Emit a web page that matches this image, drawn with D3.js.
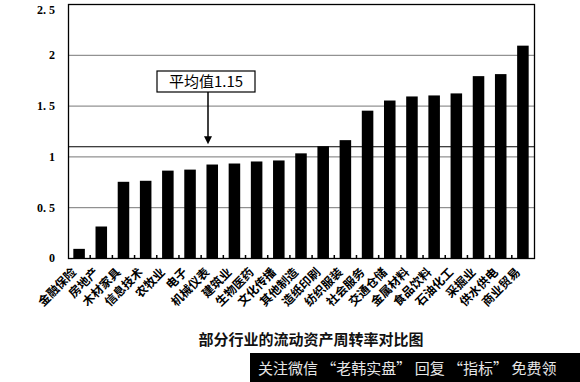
<!DOCTYPE html>
<html>
<head>
<meta charset="utf-8">
<script src="https://cdn.jsdelivr.net/npm/d3@7"></script>
<style>
  body { margin: 0; background: #fff; }
  svg { display: block; }
</style>
</head>
<body>
<div id="chart"></div>
<script>
// industries and their current asset turnover
var industries = ["金融保险", "房地产", "木材家具", "信息技术", "农牧业", "电子", "机械仪表", "建筑业",
  "生物医药", "文化传播", "其他制造", "造纸印刷", "纺织服装", "社会服务", "交通仓储", "金属材料",
  "食品饮料", "石油化工", "采掘业", "供水供电", "商业贸易"];
var turnover = [0.09, 0.31, 0.75, 0.76, 0.86, 0.87, 0.92, 0.93,
  0.95, 0.96, 1.03, 1.10, 1.16, 1.45, 1.55, 1.59,
  1.60, 1.62, 1.79, 1.81, 2.09];
var yTicks = [0, 0.5, 1, 1.5, 2, 2.5];
var avgLine = 1.1;
var avgLabel = "平均值1.15";
var title = "部分行业的流动资产周转率对比图";
var footer = "关注微信 “老韩实盘” 回复 “指标” 免费领";

var width = 580, height = 382;
var margin = {top: 4, right: 46, bottom: 124, left: 68};
var chartWidth = width - margin.left - margin.right;
var chartHeight = height - margin.top - margin.bottom;

var svg = d3.select("#chart").append("svg")
  .attr("width", width)
  .attr("height", height);

var chartGroup = svg.append("g")
  .attr("transform", `translate(${margin.left}, ${margin.top})`);

var yScale = d3.scaleLinear()
  .domain([0, 2.5])
  .range([chartHeight, 0]);

var xScale = d3.scaleBand()
  .domain(industries)
  .range([0, chartWidth])
  .paddingInner(0.48)
  .paddingOuter(0.24);

// gridlines
chartGroup.selectAll(".grid")
  .data(yTicks.filter(d => d > 0 && d < 2.5))
  .enter()
  .append("line")
  .attr("x1", 0)
  .attr("x2", chartWidth)
  .attr("y1", d => yScale(d) + 0.5)
  .attr("y2", d => yScale(d) + 0.5)
  .attr("stroke", "#777")
  .attr("stroke-width", 1);

// average line
chartGroup.append("line")
  .attr("x1", 0)
  .attr("x2", chartWidth)
  .attr("y1", yScale(avgLine) + 0.5)
  .attr("y2", yScale(avgLine) + 0.5)
  .attr("stroke", "#000")
  .attr("stroke-width", 1.2);

// bars
chartGroup.selectAll("rect.bar")
  .data(turnover)
  .enter()
  .append("rect")
  .attr("class", "bar")
  .attr("x", (d, i) => xScale(industries[i]))
  .attr("y", d => yScale(d))
  .attr("width", xScale.bandwidth())
  .attr("height", d => chartHeight - yScale(d))
  .attr("fill", "#000");

// frame
chartGroup.append("rect")
  .attr("x", 0.5)
  .attr("y", 0.5)
  .attr("width", chartWidth)
  .attr("height", chartHeight)
  .attr("fill", "none")
  .attr("stroke", "#000")
  .attr("stroke-width", 1.3);

// y axis
var yAxis = d3.axisLeft(yScale)
  .tickValues(yTicks)
  .tickSize(0)
  .tickPadding(13)
  .tickFormat(d => d3.format("")(d).replace(".", ". "));

chartGroup.append("g")
  .call(yAxis)
  .call(g => g.select(".domain").remove())
  .selectAll("text")
  .attr("font-family", "'Liberation Serif', serif")
  .attr("font-weight", "bold")
  .attr("font-size", 12)
  .attr("fill", "#000")
  .attr("dy", d => d === 2.5 ? "0.75em" : "0.32em");

// x axis ticks between bars, pointing up
var boundaries = d3.range(1, industries.length).map(i => i * chartWidth / industries.length);
chartGroup.selectAll(".xtick")
  .data(boundaries)
  .enter()
  .append("line")
  .attr("x1", d => d)
  .attr("x2", d => d)
  .attr("y1", chartHeight)
  .attr("y2", chartHeight - 3)
  .attr("stroke", "#000")
  .attr("stroke-width", 1.5);

// category labels
chartGroup.selectAll(".xlabel")
  .data(industries)
  .enter()
  .append("text")
  .attr("transform", d => `translate(${xScale(d) + xScale.bandwidth() / 2 - 2}, ${chartHeight + 15}) rotate(-45)`)
  .attr("text-anchor", "end")
  .attr("font-family", "'Noto Sans CJK SC', sans-serif")
  .attr("font-weight", "bold")
  .attr("font-size", 12)
  .attr("fill", "#000")
  .text(d => d);

// average annotation
var boxX = 157 - margin.left, boxY = 71 - margin.top, boxW = 98, boxH = 21;
chartGroup.append("rect")
  .attr("x", boxX)
  .attr("y", boxY)
  .attr("width", boxW)
  .attr("height", boxH)
  .attr("fill", "#fff")
  .attr("stroke", "#000")
  .attr("stroke-width", 1.2);

chartGroup.append("text")
  .attr("x", boxX + boxW / 2)
  .attr("y", boxY + 16)
  .attr("text-anchor", "middle")
  .attr("font-family", "'Noto Sans CJK SC', sans-serif")
  .attr("font-size", 15)
  .attr("fill", "#000")
  .text(avgLabel);

var arrowX = 208 - margin.left;
chartGroup.append("line")
  .attr("x1", arrowX)
  .attr("x2", arrowX)
  .attr("y1", boxY + boxH)
  .attr("y2", yScale(avgLine) - 8)
  .attr("stroke", "#000")
  .attr("stroke-width", 1.5);

chartGroup.append("path")
  .attr("d", `M${arrowX - 4},${yScale(avgLine) - 10} L${arrowX + 4},${yScale(avgLine) - 10} L${arrowX},${yScale(avgLine) - 2} Z`)
  .attr("fill", "#000");

// title
svg.append("text")
  .attr("x", 311)
  .attr("y", 345)
  .attr("text-anchor", "middle")
  .attr("font-family", "'Noto Sans CJK SC', sans-serif")
  .attr("font-weight", "bold")
  .attr("font-size", 15)
  .attr("fill", "#111")
  .text(title);

// footer band
svg.append("rect")
  .attr("x", 250)
  .attr("y", 353)
  .attr("width", 330)
  .attr("height", 29)
  .attr("fill", "#000");

svg.append("text")
  .attr("x", 258)
  .attr("y", 374)
  .attr("font-family", "'Noto Sans CJK SC', sans-serif")
  .attr("font-size", 15)
  .attr("fill", "#e6e6e6")
  .text(footer);
</script>
</body>
</html>
